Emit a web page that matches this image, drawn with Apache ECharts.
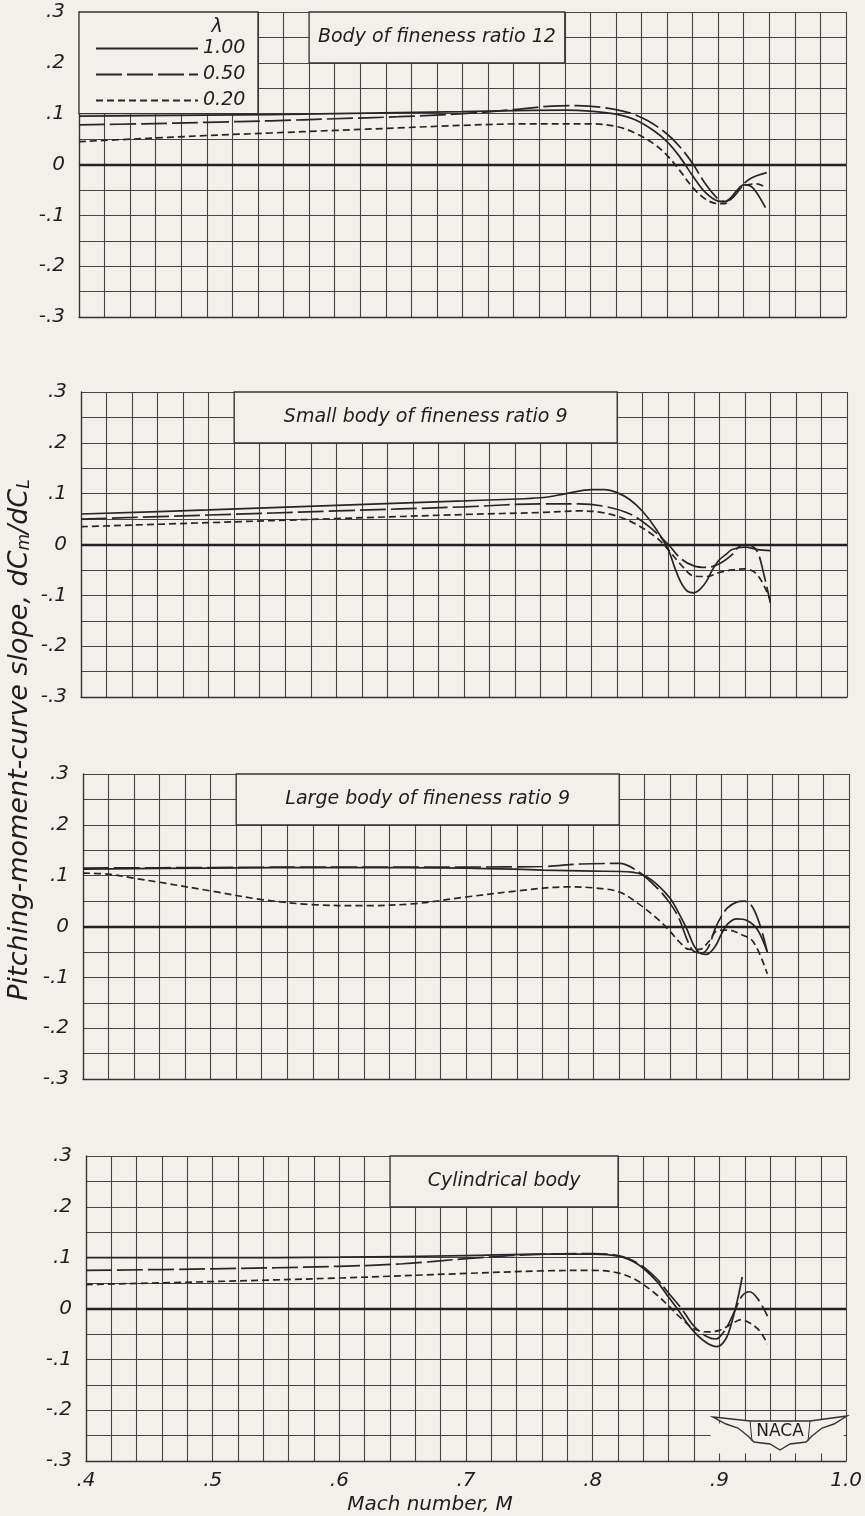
<!DOCTYPE html>
<html>
<head>
<meta charset="utf-8">
<script src="https://cdn.jsdelivr.net/npm/echarts@6/dist/echarts.min.js"></script>
<style>
html, body { margin: 0; padding: 0; background: #f3f0ec; }
#chart { width: 865px; height: 1516px; }
</style>
</head>
<body>
<div id="chart"></div>
<script>
// lambda values (legend)
var lambdas = ['1.00', '0.50', '0.20'];
var xTicks = [0.4, 0.5, 0.6, 0.7, 0.8, 0.9, 1.0];
var yTicks = [-0.3, -0.2, -0.1, 0, 0.1, 0.2, 0.3];
var panelTitles = ['Body of fineness ratio 12', 'Small body of fineness ratio 9',
                   'Large body of fineness ratio 9', 'Cylindrical body'];

// Body of fineness ratio 12  [M, dCm/dCL]
var p1_100 = [[.40,.095],[.45,.096],[.50,.097],[.55,.098],[.60,.100],[.65,.102],[.70,.104],[.74,.106],[.78,.107],[.80,.105],[.82,.099],[.835,.088],[.85,.066],[.86,.045],[.87,.015],[.88,-.022],[.89,-.055],[.90,-.072],[.905,-.073],[.91,-.065],[.915,-.05],[.92,-.04],[.925,-.042],[.93,-.055],[.937,-.085]];
var p1_050 = [[.40,.078],[.45,.080],[.50,.083],[.55,.086],[.60,.090],[.65,.094],[.70,.100],[.74,.108],[.77,.115],[.79,.116],[.81,.112],[.83,.102],[.845,.086],[.86,.060],[.87,.035],[.88,.002],[.89,-.038],[.90,-.068],[.905,-.073],[.91,-.068],[.915,-.055],[.92,-.038],[.925,-.028],[.93,-.022],[.938,-.016]];
var p1_020 = [[.40,.045],[.45,.051],[.50,.057],[.55,.062],[.60,.067],[.65,.072],[.70,.077],[.75,.080],[.80,.080],[.82,.075],[.835,.062],[.85,.040],[.86,.018],[.87,-.012],[.88,-.045],[.89,-.068],[.90,-.077],[.905,-.077],[.91,-.068],[.915,-.052],[.92,-.042],[.93,-.038],[.937,-.045]];

// Small body of fineness ratio 9
var p2_100 = [[.40,.06],[.50,.068],[.60,.077],[.70,.086],[.76,.092],[.78,.10],[.80,.108],[.81,.108],[.82,.102],[.83,.088],[.84,.065],[.85,.032],[.86,-.01],[.865,-.045],[.87,-.075],[.875,-.092],[.88,-.095],[.885,-.088],[.89,-.072],[.895,-.048],[.90,-.03],[.905,-.02],[.91,-.01],[.92,-.005],[.93,-.01],[.94,-.012]];
var p2_050 = [[.40,.05],[.50,.058],[.60,.066],[.70,.074],[.76,.08],[.79,.08],[.81,.075],[.83,.06],[.845,.035],[.86,.0],[.87,-.028],[.88,-.042],[.89,-.045],[.90,-.038],[.91,-.02],[.915,-.005],[.92,.0],[.925,-.002],[.93,-.015],[.935,-.06],[.94,-.115]];
var p2_020 = [[.40,.035],[.50,.043],[.60,.051],[.70,.059],[.76,.063],[.79,.066],[.81,.062],[.83,.046],[.85,.015],[.86,-.01],[.87,-.04],[.88,-.062],[.89,-.063],[.90,-.055],[.91,-.05],[.92,-.048],[.93,-.06],[.94,-.11]];

// Large body of fineness ratio 9
var p3_100 = [[.40,.113],[.50,.115],[.60,.116],[.70,.115],[.76,.111],[.80,.109],[.83,.107],[.84,.10],[.85,.082],[.86,.055],[.868,.02],[.873,-.005],[.878,-.035],[.883,-.052],[.888,-.055],[.895,-.04],[.90,-.015],[.905,.005],[.912,.015],[.92,.012],[.928,-.005],[.936,-.05]];
var p3_050 = [[.40,.115],[.50,.116],[.60,.117],[.70,.117],[.76,.118],[.79,.123],[.82,.124],[.835,.108],[.85,.075],[.86,.045],[.867,.015],[.873,-.025],[.878,-.048],[.885,-.052],[.89,-.04],[.895,-.005],[.90,.02],[.905,.037],[.912,.048],[.918,.05],[.924,.04],[.93,.005],[.936,-.05]];
var p3_020 = [[.40,.105],[.42,.103],[.44,.095],[.46,.087],[.50,.07],[.54,.053],[.58,.043],[.62,.041],[.66,.045],[.70,.058],[.74,.07],[.78,.078],[.80,.076],[.82,.068],[.835,.045],[.85,.015],[.86,-.01],[.867,-.03],[.875,-.045],[.883,-.045],[.89,-.03],[.897,-.008],[.905,-.007],[.915,-.015],[.925,-.03],[.936,-.093]];

// Cylindrical body
var p4_100 = [[.40,.10],[.50,.10],[.60,.101],[.70,.104],[.76,.107],[.80,.107],[.82,.103],[.835,.088],[.85,.055],[.86,.022],[.868,-.005],[.878,-.04],[.889,-.066],[.898,-.075],[.905,-.06],[.91,-.025],[.915,.025],[.918,.062]];
var p4_050 = [[.40,.075],[.50,.078],[.60,.083],[.65,.088],[.70,.098],[.75,.106],[.80,.108],[.82,.104],[.835,.09],[.85,.06],[.86,.03],[.87,.0],[.88,-.035],[.89,-.055],[.897,-.06],[.905,-.04],[.912,-.005],[.918,.025],[.924,.033],[.93,.02],[.938,-.015]];
var p4_020 = [[.40,.047],[.50,.053],[.60,.06],[.70,.069],[.76,.074],[.80,.075],[.82,.07],[.835,.055],[.85,.028],[.86,.005],[.87,-.02],[.88,-.04],[.89,-.046],[.90,-.043],[.91,-.03],[.917,-.022],[.925,-.03],[.932,-.045],[.938,-.07]];

// title boxes [x0, y0, x1, y1]
var titleBoxes = [[0.58, 0.2, 0.78, 0.3], [0.52, 0.2, 0.82, 0.3], [0.52, 0.2, 0.82, 0.3], [0.64, 0.2, 0.82, 0.3]];
var legendBox = [0.40, 0.10, 0.54, 0.30];
var nacaBox = [0.893, -0.285, 0.998, -0.226];

var BG = '#f3f0ec';
var INK = '#262626';
var TXT = '#1e1e1e';
var FONT = '"DejaVu Sans", sans-serif';

var panelData = [[p1_100, p1_050, p1_020], [p2_100, p2_050, p2_020],
                 [p3_100, p3_050, p3_020], [p4_100, p4_050, p4_020]];
var dashes = ['solid', [26, 5], [7, 4]];

var layout = [
    { top: 12, left: 79, right: 19 },
    { top: 392, left: 81, right: 18 },
    { top: 774, left: 83, right: 16 },
    { top: 1156, left: 86, right: 13 }
];

function fmtY(v) {
    var r = Math.round(v * 10);
    if (r === 0) return '0';
    return (r < 0 ? '-' : '') + '.' + Math.abs(r);
}
function fmtX(v) {
    var r = Math.round(v * 10);
    if (r === 10) return '1.0';
    return '.' + r;
}

var myChart = echarts.init(document.getElementById('chart'));
var grids = [], xAxes = [], yAxes = [], series = [];

for (var i = 0; i < 4; i++) {
    grids.push({ left: layout[i].left, right: layout[i].right, top: layout[i].top, height: 305 });
    xAxes.push({
        gridIndex: i, type: 'value',
        min: xTicks[0], max: xTicks[xTicks.length - 1], interval: 0.1,
        axisLine: { show: true, onZero: false, lineStyle: { color: '#333', width: 1.3 } },
        axisTick: { show: false },
        splitLine: { show: true, lineStyle: { color: '#444', width: 1.1 } },
        minorTick: { show: false, splitNumber: 5 },
        minorSplitLine: { show: true, lineStyle: { color: '#444', width: 1.1 } },
        axisLabel: i === 3 ? {
            show: true, margin: 10, formatter: fmtX,
            fontSize: 20, fontStyle: 'italic', fontFamily: FONT, color: TXT
        } : { show: false }
    });
    yAxes.push({
        gridIndex: i, type: 'value',
        min: yTicks[0], max: yTicks[yTicks.length - 1], interval: 0.1,
        axisLine: { show: true, lineStyle: { color: '#333', width: 1.3 } },
        axisTick: { show: false },
        splitLine: { show: true, lineStyle: { color: '#444', width: 1.1 } },
        minorTick: { show: false, splitNumber: 2 },
        minorSplitLine: { show: true, lineStyle: { color: '#444', width: 1.1 } },
        axisLabel: {
            margin: 14, formatter: fmtY,
            fontSize: 20, fontStyle: 'italic', fontFamily: FONT, color: TXT
        }
    });

    // boxes and zero line
    var tb = titleBoxes[i];
    var areas = [[
        { xAxis: tb[0], yAxis: tb[1], name: panelTitles[i] },
        { xAxis: tb[2], yAxis: tb[3] }
    ]];
    if (i === 0) {
        areas.push([
            { xAxis: legendBox[0], yAxis: legendBox[1], name: '', label: { show: false } },
            { xAxis: legendBox[2], yAxis: legendBox[3] }
        ]);
    }
    if (i === 3) {
        // blank patch under the NACA wings
        areas.push([
            { xAxis: nacaBox[0], yAxis: nacaBox[1], name: '', label: { show: false },
              itemStyle: { borderWidth: 0 } },
            { xAxis: nacaBox[2], yAxis: nacaBox[3] }
        ]);
    }
    series.push({
        type: 'line', xAxisIndex: i, yAxisIndex: i, data: [], z: 2, silent: true,
        markLine: {
            symbol: 'none', silent: true, label: { show: false },
            lineStyle: { color: '#222', width: 2.4, type: 'solid' },
            data: [{ yAxis: 0 }]
        },
        markArea: {
            silent: true,
            itemStyle: { color: BG, borderColor: '#333', borderWidth: 1.3 },
            label: {
                show: true, position: 'inside',
                fontStyle: 'italic', fontSize: 19, fontFamily: FONT, color: TXT
            },
            data: areas
        }
    });

    for (var k = 0; k < 3; k++) {
        series.push({
            name: lambdas[k], type: 'line', xAxisIndex: i, yAxisIndex: i,
            data: panelData[i][k], smooth: 0.35, symbol: 'none', z: 3,
            itemStyle: { color: INK },
            lineStyle: { color: INK, width: 1.7, type: dashes[k] }
        });
    }
}

var Option = {
    backgroundColor: BG,
    animation: false,
    grid: grids,
    xAxis: xAxes,
    yAxis: yAxes,
    legend: {
        data: lambdas, orient: 'vertical', left: 90, top: 34,
        itemWidth: 102, itemHeight: 14, itemGap: 7, selectedMode: false,
        itemStyle: { opacity: 0 },
        textStyle: { fontStyle: 'italic', fontSize: 19, fontFamily: FONT, color: TXT }
    },
    graphic: [
        { type: 'text', x: 217, y: 27, z: 100, style: { text: 'λ', align: 'center', verticalAlign: 'middle',
          font: 'italic 19px "DejaVu Sans"', fill: TXT } },
        { type: 'text', x: 430, y: 1505, z: 100, style: { text: 'Mach number, M', align: 'center', verticalAlign: 'middle',
          font: 'italic 20px "DejaVu Sans"', fill: TXT } },
        { type: 'text', x: 20, y: 740, z: 100, rotation: Math.PI / 2,
          style: { text: 'Pitching-moment-curve slope, dC{s|m}/dC{s|L}', align: 'center', verticalAlign: 'middle',
                   font: 'italic 27px "DejaVu Sans"', fill: TXT,
                   rich: { s: { fontSize: 17, fontStyle: 'italic', fontFamily: 'DejaVu Sans', fill: TXT, verticalAlign: 'bottom' } } } },
        // NACA wing emblem
        { type: 'polygon', z: 100, shape: { points: [[713, 1417], [750, 1421], [810, 1421], [847, 1416],
            [834, 1424], [822, 1428], [812, 1436], [806, 1442], [790, 1444], [780, 1450], [770, 1444],
            [754, 1442], [748, 1436], [738, 1428], [726, 1424]] },
          style: { fill: BG, stroke: '#333', lineWidth: 1.4 } },
        { type: 'polyline', z: 101, shape: { points: [[750, 1421], [752, 1441]] },
          style: { stroke: '#333', lineWidth: 1 } },
        { type: 'polyline', z: 101, shape: { points: [[810, 1421], [808, 1441]] },
          style: { stroke: '#333', lineWidth: 1 } },
        { type: 'text', x: 780, y: 1432, z: 102, style: { text: 'NACA', align: 'center', verticalAlign: 'middle',
          font: '17px "DejaVu Sans"', fill: '#222' } }
    ],
    series: series
};

myChart.setOption(Option);
</script>
</body>
</html>
